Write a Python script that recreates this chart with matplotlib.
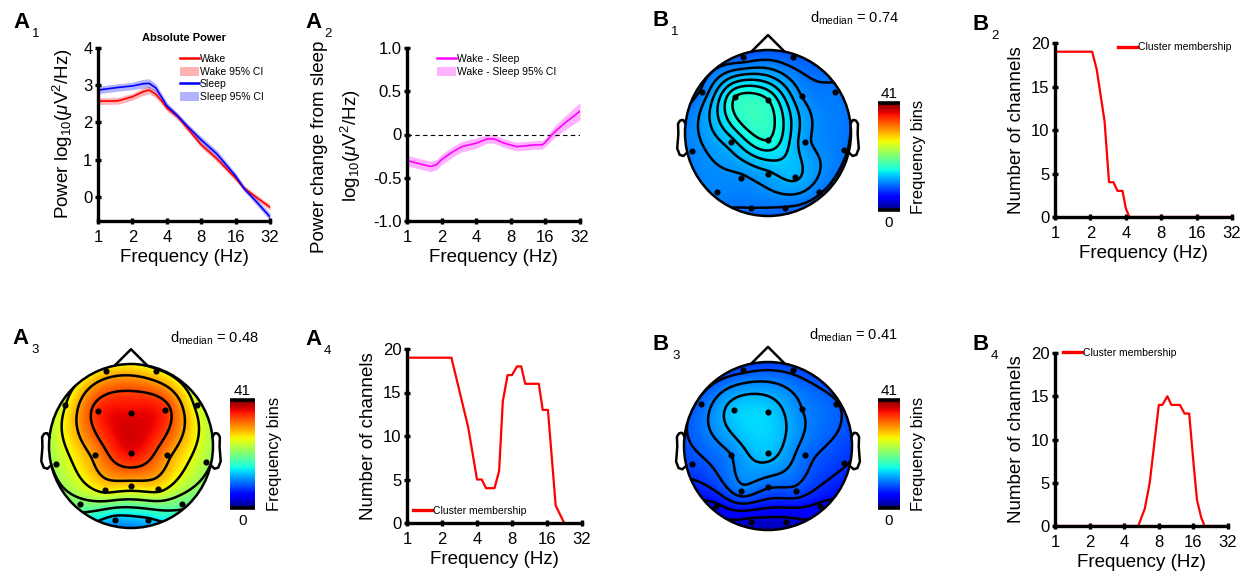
import numpy as np
import matplotlib
matplotlib.use("Agg")
import matplotlib.pyplot as plt
from matplotlib.patches import Circle, Patch
from matplotlib.lines import Line2D
from matplotlib.ticker import NullLocator

W, H = 1241, 576

plt.rcParams["font.family"] = ["Liberation Sans", "DejaVu Sans"]
plt.rcParams["mathtext.fontset"] = "custom"
plt.rcParams["mathtext.rm"] = "Liberation Sans"
plt.rcParams["mathtext.it"] = "Liberation Sans:italic"
plt.rcParams["mathtext.bf"] = "Liberation Sans:bold"

FREQ_TICKS = [1, 2, 4, 8, 16, 32]

# A1 - absolute power spectra (log10 uV^2/Hz)
spec_freq = [1, 1.5, 2, 2.5, 2.8, 3.2, 3.6, 4, 5, 6, 8, 11, 16, 19, 24, 32]
wake_pow  = [2.57, 2.58, 2.69, 2.83, 2.87, 2.76, 2.58, 2.39, 2.15, 1.86, 1.40, 1.02, 0.50, 0.23, 0.00, -0.28]
sleep_pow = [2.87, 2.94, 2.98, 3.04, 3.05, 2.93, 2.68, 2.45, 2.17, 1.91, 1.53, 1.15, 0.56, 0.22, -0.11, -0.54]
wake_ci   = [0.09, 0.09, 0.09, 0.10, 0.10, 0.10, 0.09, 0.08, 0.08, 0.08, 0.08, 0.08, 0.07, 0.07, 0.07, 0.08]
sleep_ci  = [0.10, 0.10, 0.10, 0.12, 0.12, 0.11, 0.10, 0.09, 0.08, 0.08, 0.09, 0.10, 0.08, 0.08, 0.09, 0.10]

# A2 - wake minus sleep
diff_freq = [1, 1.3, 1.6, 1.8, 2, 2.5, 3, 4, 5, 5.7, 7, 9, 11, 13, 15, 16, 18, 20, 24, 32]
diff_pow  = [-0.30, -0.34, -0.37, -0.35, -0.29, -0.20, -0.14, -0.10, -0.05, -0.05,
             -0.10, -0.14, -0.13, -0.12, -0.12, -0.09, -0.01, 0.05, 0.14, 0.27]
diff_ci   = [0.06, 0.06, 0.06, 0.06, 0.06, 0.06, 0.06, 0.06, 0.05, 0.05,
             0.05, 0.05, 0.05, 0.05, 0.05, 0.05, 0.06, 0.07, 0.08, 0.10]

# cluster membership (number of channels per frequency)
b2_freq  = [1, 2.07, 2.26, 2.64, 2.88, 3.14, 3.40, 3.75, 4.0, 4.29, 32]
b2_count = [19, 19, 17, 11, 4, 4, 3, 3, 1, 0, 0]
a4_freq  = [1, 2.41, 3.36, 4.0, 4.39, 4.79, 5.66, 6.2, 6.67, 7.33, 8.0, 8.83, 9.6, 10.4,
            13.6, 14.7, 16.3, 19.0, 22.5]
a4_count = [19, 19, 11, 5, 5, 4, 4, 6, 14, 17, 17, 18, 18, 16, 16, 13, 13, 2, 0]
b4_freq  = [1, 5.3, 6.04, 6.67, 8.0, 8.6, 9.5, 10.3, 12.2, 13.4, 14.7, 16.1, 17.2, 18.7, 20.0, 32]
b4_count = [0, 0, 2, 5, 14, 14, 15, 14, 14, 13, 13, 7, 3, 1, 0, 0]

# topography - 19 channels (10-20), values = number of frequency bins in cluster
chan_names = ["Fp1", "Fp2", "F7", "F3", "Fz", "F4", "F8", "T3", "C3", "Cz",
              "C4", "T4", "T5", "P3", "Pz", "P4", "T6", "O1", "O2"]
chan_x = [-0.30, 0.30, -0.80, -0.40, 0.0, 0.41, 0.81, -0.91, -0.44, 0.0,
          0.44, 0.91, -0.62, -0.32, 0.0, 0.33, 0.62, -0.20, 0.21]
chan_y = [0.91, 0.91, 0.50, 0.43, 0.40, 0.44, 0.50, -0.22, -0.11, -0.08,
          -0.11, -0.20, -0.71, -0.54, -0.49, -0.53, -0.71, -0.90, -0.90]
bins_a3 = [28, 27, 26, 35.5, 37, 35.5, 25, 23, 31, 37, 31, 23, 20.5, 27, 28, 27, 19.5, 12.5, 13.5]
bins_b1 = [9, 9, 10, 16, 16, 11, 10, 10.5, 13, 16, 11.5, 10, 10.5, 10.8, 12, 12.5, 10, 9.8, 9.7]
bins_b3 = [8.2, 8.2, 9.3, 13.2, 13.5, 10.5, 9.0, 8, 10.5, 13, 9.5, 7.3, 5, 9.8, 9.0, 8.3, 5, 3, 3]
d_median = {"A3": 0.48, "B1": 0.74, "B3": 0.41}
N_BINS = 41

fig = plt.figure(figsize=(W / 100, H / 100), dpi=100)
fig.patch.set_facecolor("white")


def px_axes(x0, y0, x1, y1):
    return fig.add_axes([x0 / W, 1 - y1 / H, (x1 - x0) / W, (y1 - y0) / H])


def ftext(x, y, s, **kw):
    return fig.text(x / W, 1 - y / H, s, **kw)


def style_freq_axis(ax):
    ax.set_xscale("log", base=2)
    ax.set_xlim(1, 32)
    ax.set_xticks(FREQ_TICKS)
    ax.set_xticklabels([str(f) for f in FREQ_TICKS])
    ax.xaxis.set_minor_locator(NullLocator())
    for s in ("top", "right"):
        ax.spines[s].set_visible(False)
    for s in ("left", "bottom"):
        ax.spines[s].set_linewidth(2.4)
    ax.tick_params(direction="inout", length=4, width=2.4, labelsize=12)
    ax.tick_params(axis="x", pad=4.5)
    ax.tick_params(axis="y", pad=2)
    ax.set_xlabel("Frequency (Hz)", fontsize=13.5, labelpad=3)
    ax.patch.set_alpha(0)


def panel_label(x, y, letter, num):
    ftext(x, y, letter, fontsize=16, fontweight="bold", va="baseline")
    ftext(x + 19, y + 9, num, fontsize=9.5, va="baseline")


def v4_interp(xc, yc, vals, gx, gy):
    # biharmonic spline (same idea as griddata 'v4')
    p = np.asarray(xc) + 1j * np.asarray(yc)
    d = np.abs(p[:, None] - p[None, :])
    g = np.where(d > 0, d**2 * (np.log(np.where(d > 0, d, 1)) - 1), 0)
    w = np.linalg.solve(g, np.asarray(vals, float))
    q = (gx + 1j * gy).ravel()
    dq = np.abs(q[:, None] - p[None, :])
    gq = np.where(dq > 0, dq**2 * (np.log(np.where(dq > 0, dq, 1)) - 1), 0)
    return (gq @ w).reshape(gx.shape)


def draw_topo(cx, cy, r, vals):
    k = 1.3
    ax = px_axes(cx - k * r, cy - k * r, cx + k * r, cy + k * r)
    ax.set_xlim(-k, k)
    ax.set_ylim(-k, k)
    ax.set_aspect("equal")
    ax.axis("off")

    g = np.linspace(-1, 1, 201)
    gx, gy = np.meshgrid(g, g)
    z = v4_interp(chan_x, chan_y, vals, gx, gy)
    inside = gx**2 + gy**2 <= 1
    zmin, zmax = z[inside].min(), z[inside].max()

    clip = Circle((0, 0), 1, transform=ax.transData)
    im = ax.imshow(z, extent=(-1, 1, -1, 1), origin="lower", cmap="jet",
                   vmin=0, vmax=N_BINS, interpolation="bilinear")
    im.set_clip_path(clip)
    levels = np.linspace(zmin, zmax, 8)[1:-1]
    cs = ax.contour(gx, gy, z, levels=levels, colors="k", linewidths=1.8)
    cs.set_clip_path(clip)

    ax.add_patch(Circle((0, 0), 1, fill=False, lw=1.8, ec="k", zorder=5))
    ax.plot([-0.19, 0, 0.19], [0.99, 1.18, 0.99], color="k", lw=1.8, zorder=5)
    ear_x = np.array([0.994, 1.02, 1.036, 1.06, 1.084, 1.08, 1.094, 1.064, 1.02, 0.978])
    ear_y = np.array([0.111, 0.155, 0.157, 0.149, 0.111, -0.011, -0.186, -0.263, -0.277, -0.240])
    ax.plot(ear_x, ear_y, color="k", lw=1.8, zorder=5)
    ax.plot(-ear_x, ear_y, color="k", lw=1.8, zorder=5)
    ax.plot(chan_x, chan_y, "o", ms=3.4, color="k", zorder=6)
    return ax


def draw_cbar(x0, y0, x1, y1):
    cax = px_axes(x0, y0, x1, y1)
    cax.imshow(np.linspace(0, N_BINS, 256)[:, None], aspect="auto", cmap="jet",
               origin="lower", extent=(0, 1, 0, N_BINS), vmin=0, vmax=N_BINS)
    cax.set_xlim(0, 1)
    cax.set_ylim(0, N_BINS)
    cax.axis("off")
    for yv in (0, N_BINS):
        cax.plot([0, 1], [yv, yv], color="k", lw=2.6, clip_on=False, solid_capstyle="butt")
    xm = (x0 + x1) / 2
    ftext(xm, y0 - 5, str(N_BINS), fontsize=11, ha="center", va="baseline")
    ftext(xm, y1 + 17, "0", fontsize=11, ha="center", va="baseline")
    ftext(x1 + 19, (y0 + y1) / 2, "Frequency bins", fontsize=12, rotation=90,
          ha="center", va="center")


def cluster_axis(x0, y0, x1, y1, freq, count, leg_xy, leg_loc):
    ax = px_axes(x0, y0, x1, y1)
    ax.plot(freq, count, color="red", lw=1.6, label="Cluster membership")
    style_freq_axis(ax)
    ax.set_ylim(0, 20)
    ax.set_yticks([0, 5, 10, 15, 20])
    ax.set_ylabel("Number of channels", fontsize=13.5, labelpad=4)
    ax.legend(loc=leg_loc, bbox_to_anchor=leg_xy, frameon=False, fontsize=7.5,
              handlelength=1.8, handletextpad=0.15, borderpad=0, borderaxespad=0)
    for line in ax.get_legend().get_lines():
        line.set_linewidth(2.4)
    return ax


# ---- A1 absolute power
ax = px_axes(98, 48, 270, 221)
wp, sp = np.array(wake_pow), np.array(sleep_pow)
ax.fill_between(spec_freq, wp - wake_ci, wp + wake_ci, color="red", alpha=0.3, lw=0)
ax.fill_between(spec_freq, sp - sleep_ci, sp + sleep_ci, color="blue", alpha=0.3, lw=0)
ax.plot(spec_freq, wp, color="red", lw=1.2)
ax.plot(spec_freq, sp, color="blue", lw=1.2)
style_freq_axis(ax)
ax.set_ylim(-0.65, 4)
ax.set_yticks([0, 1, 2, 3, 4])
handles = [Line2D([], [], color="red", lw=1.8), Patch(color="red", alpha=0.3, lw=0),
           Line2D([], [], color="blue", lw=1.8), Patch(color="blue", alpha=0.3, lw=0)]
ax.legend(handles, ["Wake", "Wake 95% CI", "Sleep", "Sleep 95% CI"], loc="upper left",
          bbox_to_anchor=(0.477, 0.965), frameon=False, fontsize=7.5, handlelength=1.8,
          handleheight=1.0, handletextpad=0.1, labelspacing=0.22, borderpad=0, borderaxespad=0)
ftext(184, 38, "Absolute Power", fontsize=8, fontweight="bold", ha="center", va="center")
ftext(63, 134, r"Power log$_{10}$($\mu$V$^2$/Hz)", fontsize=13.5, rotation=90,
      ha="center", va="center")
panel_label(13, 28, "A", "1")

# ---- A2 wake - sleep
ax = px_axes(407, 48, 580, 221)
dp = np.array(diff_pow)
ax.fill_between(diff_freq, dp - diff_ci, dp + diff_ci, color="magenta", alpha=0.3, lw=0)
ax.plot(diff_freq, dp, color="magenta", lw=1.2)
ax.axhline(0, color="k", lw=0.8, ls=(0, (4, 3)), zorder=1)
style_freq_axis(ax)
ax.set_ylim(-1, 1)
ax.set_yticks([-1, -0.5, 0, 0.5, 1])
ax.set_yticklabels(["-1.0", "-0.5", "0", "0.5", "1.0"])
handles = [Line2D([], [], color="magenta", lw=1.8), Patch(color="magenta", alpha=0.3, lw=0)]
ax.legend(handles, ["Wake - Sleep", "Wake - Sleep 95% CI"], loc="upper left",
          bbox_to_anchor=(0.173, 0.965), frameon=False, fontsize=7.5, handlelength=1.8,
          handleheight=1.0, handletextpad=0.1, labelspacing=0.22, borderpad=0, borderaxespad=0)
ftext(320, 147, "Power change from sleep", fontsize=13.5, rotation=90, ha="center", va="center")
ftext(351, 146, r"log$_{10}$($\mu$V$^2$/Hz)", fontsize=13.5, rotation=90, ha="center", va="center")
panel_label(305, 28, "A", "2")

# ---- B1 topography + colorbar
draw_topo(768, 133, 83, bins_b1)
draw_cbar(878, 103, 900, 210)
ftext(899, 23, r"d$_\mathregular{median}$ = %.2f" % d_median["B1"], fontsize=10.5,
      ha="right", va="baseline")
panel_label(652, 26, "B", "1")

# ---- B2 cluster
cluster_axis(1055, 43, 1232, 217, b2_freq, b2_count, (0.356, 0.975), "center left")
panel_label(972, 30, "B", "2")

# ---- A3 topography + colorbar
draw_topo(131, 446, 82, bins_a3)
draw_cbar(230, 400, 255, 508)
ftext(259, 343, r"d$_\mathregular{median}$ = %.2f" % d_median["A3"], fontsize=10.5,
      ha="right", va="baseline")
panel_label(12, 344, "A", "3")

# ---- A4 cluster
cluster_axis(407, 349, 582, 523, a4_freq, a4_count, (0.034, 0.069), "center left")
panel_label(305, 345, "A", "4")

# ---- B3 topography + colorbar
draw_topo(768, 446, 84, bins_b3)
draw_cbar(878, 400, 900, 508)
ftext(898, 340, r"d$_\mathregular{median}$ = %.2f" % d_median["B3"], fontsize=10.5,
      ha="right", va="baseline")
panel_label(653, 350, "B", "3")

# ---- B4 cluster
cluster_axis(1055, 353, 1228, 526, b4_freq, b4_count, (0.046, 1.0), "center left")
panel_label(972, 350, "B", "4")

fig.savefig("out.png", dpi=100, facecolor="white")
